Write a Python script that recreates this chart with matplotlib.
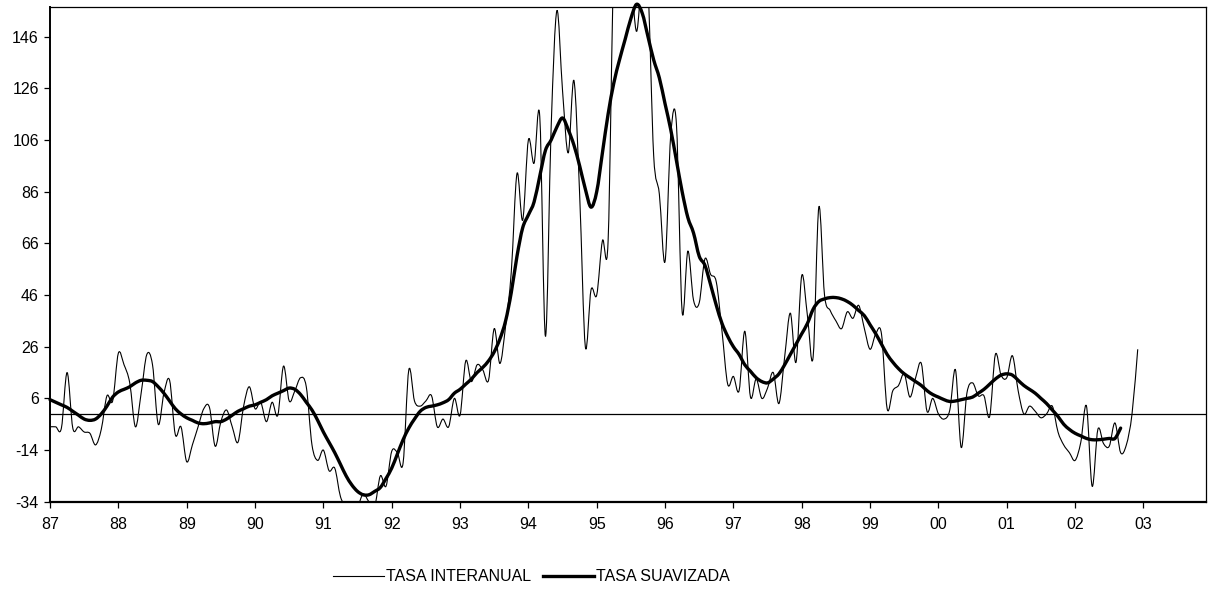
import numpy as np
import matplotlib
matplotlib.use("Agg")
import matplotlib.pyplot as plt
from matplotlib.path import Path
from matplotlib.patches import PathPatch
from matplotlib.lines import Line2D

plt.rcParams['font.family'] = ['Liberation Sans', 'DejaVu Sans']
plt.rcParams['axes.unicode_minus'] = False

# monthly values, Jan 1987 .. Dec 2002
tasa_interanual = [
    -5, -5, -5.5, 16, -5.5, -5, -7, -7.5, -12, -6, 7, 5,
    23.5, 19, 12, -5, 8, 23, 19, -4, 8, 13, -8, -5,
    -18.5, -12, -5, 2, 2.5, -12.5, -3, 1.5, -5, -11, 3, 10.5,
    2, 4.5, -3, 4.5, -0.5, 18.5, 5, 9, 14, 10.5, -12, -18,
    -14, -22, -21, -32, -36, -38, -36, -31, -34, -36, -24, -28,
    -14.5, -15, -19, 17, 5, 3, 5, 7, -5, -2, -5, 6,
    -0.5, 20.5, 12.5, 19, 17, 13, 33, 19.5, 34, 55, 93, 75,
    106, 97, 115, 30, 111, 156, 125, 101, 129, 85, 26, 48,
    46, 67, 67, 175, 190, 185, 170, 148, 170, 165, 100, 85,
    59, 108, 112, 39.5, 63, 44, 43, 60, 54, 51, 32, 11.5,
    14.5, 9, 32, 6.5, 13.5, 6, 10, 16, 4, 22, 39, 20,
    53.5, 38, 22, 80, 46, 40, 36, 33, 39.5, 37, 42, 33,
    25, 31, 31, 2, 9, 11, 15.5, 6.5, 14, 19.5, 1, 6,
    0, -2, 1.5, 17, -13, 8, 12, 7, 7, -1, 23, 15,
    14, 22.5, 9, 0, 3, 1, -1.5, 0, 3, -7, -12, -15,
    -18, -11, 3, -28, -6, -11.5, -12.5, -3.5, -15, -12, 0, 25,
]

# smoothed series, Jan 1987 .. Sep 2002
tasa_suavizada = [
    5.5, 4.5, 3.5, 2.5, 1, -0.5, -2, -2.5, -2, 0, 3, 6.5,
    8.5, 9.5, 10.5, 12, 13, 13, 12.5, 10.5, 8, 5, 2, 0,
    -1.5, -2.5, -3.5, -3.8, -3.5, -3, -3, -2, -0.5, 1, 2, 3,
    3.5, 4.5, 5.5, 7, 8, 9, 10, 9.5, 7.5, 4.5, 1.5, -2.5,
    -7, -11, -15, -19.5, -24, -27.5, -30, -31.3, -31.3, -30, -28.5, -25,
    -21, -15.5, -10, -5.5, -2, 1, 2.5, 3, 3.5, 4.3, 5.5, 8,
    9.5, 11.5, 13.5, 16, 18, 20.5, 24, 29, 36, 47, 61, 72,
    77, 82, 92, 102, 106, 111, 114.5, 110, 104, 96, 87, 80,
    86, 101, 116, 128, 137, 145, 153, 158.5, 155, 146, 137, 130,
    120, 110, 98, 86, 76, 70, 61, 57.5, 50, 42, 35, 30,
    26, 23, 19, 16.5, 14, 12.5, 12, 13.5, 15.5, 19, 23, 27,
    31, 35, 40.5, 43.5, 44.5, 45, 45, 44.5, 43.5, 42, 40, 38,
    34.5, 31, 27, 23, 20, 17.5, 15.5, 14, 12.5, 11, 9, 7.5,
    6.5, 5.5, 4.8, 5, 5.5, 6, 6.5, 8, 9.5, 11.5, 13.5, 15,
    15.5, 15, 13, 11, 9.5, 8, 6, 4, 1.5, -1, -4, -6,
    -7.5, -8.5, -9.5, -10, -10, -9.8, -9.5, -9.5, -5.5,
]

year_labels = ['87', '88', '89', '90', '91', '92', '93', '94', '95',
               '96', '97', '98', '99', '00', '01', '02', '03']
y_ticks = [-34, -14, 6, 26, 46, 66, 86, 106, 126, 146]


def smoothed_path(vals):
    # excel-style "smoothed line": bezier segments through every data point
    p = np.column_stack([np.arange(len(vals)), np.asarray(vals, float)])
    n = len(p)
    verts = [p[0]]
    codes = [Path.MOVETO]
    for i in range(n - 1):
        a = p[max(i - 1, 0)]
        d = p[min(i + 2, n - 1)]
        verts += [p[i] + (p[i + 1] - a) / 6, p[i + 1] - (d - p[i]) / 6, p[i + 1]]
        codes += [Path.CURVE4] * 3
    return Path(verts, codes)


fig = plt.figure(figsize=(12.08, 5.91), dpi=100)
ax = fig.add_axes([0.0414, 0.151, 0.957, 0.8365])

ax.add_patch(PathPatch(smoothed_path(tasa_interanual), fill=False,
                       edgecolor='black', lw=0.8))
ax.add_patch(PathPatch(smoothed_path(tasa_suavizada), fill=False,
                       edgecolor='black', lw=2.4, clip_on=False,
                       capstyle='round', joinstyle='round'))
ax.axhline(0, color='black', lw=0.9)

ax.set_xlim(0, 203)
ax.set_ylim(-34, 157.3)
ax.set_xticks(np.arange(len(year_labels)) * 12)
ax.set_xticklabels(year_labels)
ax.set_yticks(y_ticks)
ax.tick_params(direction='out', length=4, width=0.9, labelsize=11.5, pad=4)
ax.tick_params(axis='x', pad=7)
for s in ax.spines.values():
    s.set_linewidth(0.9)
ax.spines['bottom'].set_linewidth(1.6)
ax.spines['left'].set_linewidth(1.4)

handles = [Line2D([], [], color='black', lw=0.8),
           Line2D([], [], color='black', lw=2.4)]
fig.legend(handles, ['TASA INTERANUAL', 'TASA SUAVIZADA'], loc='center',
           bbox_to_anchor=(0.44, 0.024), ncol=2, frameon=False,
           fontsize=11.5, handlelength=3.2, handletextpad=0.15, columnspacing=0.7)

fig.savefig('out.png', dpi=100)
